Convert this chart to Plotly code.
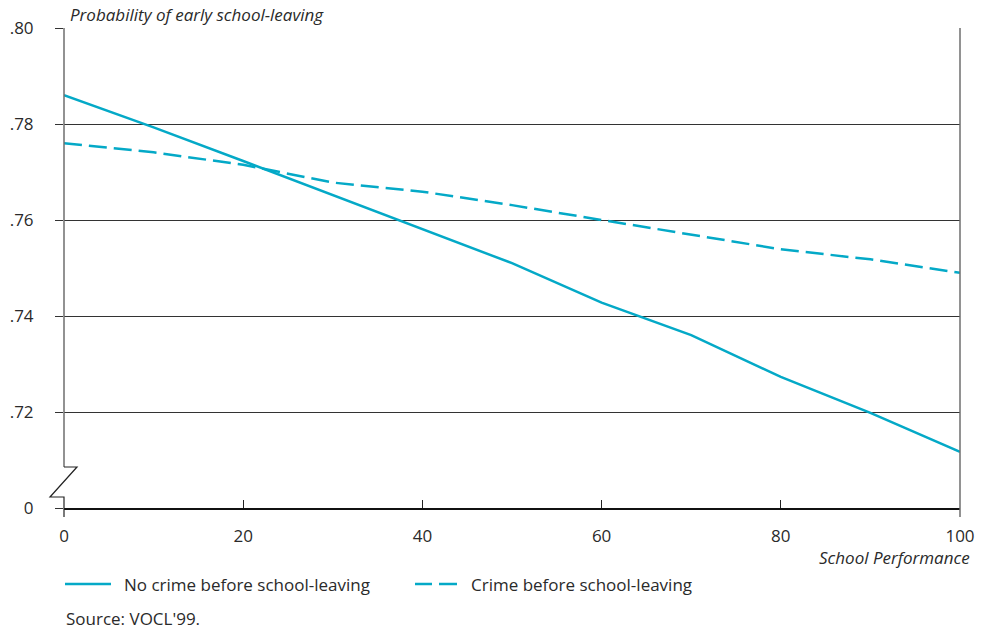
import plotly.graph_objects as go

# ---- data ----
school_performance = [0, 10, 20, 30, 40, 50, 60, 70, 80, 90, 100]
no_crime = [0.786, 0.7793, 0.7723, 0.7652, 0.7582, 0.7510, 0.7428, 0.7360, 0.7273, 0.7198, 0.7117]
crime = [0.776, 0.7741, 0.7715, 0.7678, 0.7659, 0.7631, 0.7600, 0.7569, 0.7539, 0.7518, 0.7490]
series_names = ["No crime before school-leaving", "Crime before school-leaving"]
y_tickvals = [0.70, 0.72, 0.74, 0.76, 0.78, 0.80]
y_ticktext = ["0", ".72", ".74", ".76", ".78", ".80"]
x_tickvals = [0, 20, 40, 60, 80, 100]
y_title = "Probability of early school-leaving"
x_title = "School Performance"
source = "Source: VOCL'99."

COLOR = "#04A9C7"
FONT = "Open Sans"
FS = 17
TXT = "#2a2a2a"
W, H = 983, 629          # body margin removed by post_script
ML, MR, MT, MB = 64, 23, 28, 121
PW = W - ML - MR
PH = H - MT - MB
Y0, Y1 = 0.70, 0.80

def py(v):
    """data y -> paper y"""
    return (v - Y0) / (Y1 - Y0)

def px_x(p):
    return p / PW

def px_y(p):
    return p / PH

fig = go.Figure()
fig.add_trace(go.Scatter(x=school_performance, y=no_crime, mode="lines",
                         line=dict(color=COLOR, width=2.5), name=series_names[0],
                         showlegend=False, hoverinfo="skip"))
fig.add_trace(go.Scatter(x=school_performance, y=crime, mode="lines",
                         line=dict(color=COLOR, width=2.5, dash="18px,7px"),
                         name=series_names[1], showlegend=False, hoverinfo="skip"))

shapes = []
brk_top = 0.70854
brk_bot = 0.70229
shapes.append(dict(type="line", xref="paper", yref="paper", x0=0, x1=0,
                   y0=1, y1=py(brk_top), line=dict(color="#6e6e6e", width=1.5)))
zig = (f"M 0 {py(brk_top)} L {px_x(13)} {py(brk_top)} "
       f"L {px_x(-14)} {py(brk_bot)} L 0 {py(brk_bot)} L 0 {-px_y(9)}")
shapes.append(dict(type="path", xref="paper", yref="paper", path=zig,
                   line=dict(color="#222222", width=1.2)))
shapes.append(dict(type="line", xref="paper", yref="paper", x0=1, x1=1,
                   y0=1, y1=-px_y(9), line=dict(color="#6e6e6e", width=1.5)))

annotations = [
    dict(text=f"<i>{y_title}</i>", xref="paper", yref="paper", x=px_x(4), y=1 + px_y(13),
         xanchor="left", yanchor="middle", showarrow=False,
         font=dict(family=FONT, size=FS, color=TXT)),
    dict(text=f"<i>{x_title}</i>", xref="paper", yref="paper", x=1 + px_x(12),
         y=-px_y(49), xanchor="right", yanchor="middle", showarrow=False,
         font=dict(family=FONT, size=FS, color=TXT)),
    dict(text=source, xref="paper", yref="paper", x=0, y=-px_y(110),
         xanchor="left", yanchor="middle", showarrow=False,
         font=dict(family=FONT, size=FS, color=TXT)),
]

leg_y = -px_y(76)
shapes.append(dict(type="line", xref="paper", yref="paper", x0=px_x(1), x1=px_x(47),
                   y0=leg_y, y1=leg_y, line=dict(color=COLOR, width=2.5)))
shapes.append(dict(type="line", xref="paper", yref="paper", x0=px_x(351), x1=px_x(368),
                   y0=leg_y, y1=leg_y, line=dict(color=COLOR, width=2.5)))
shapes.append(dict(type="line", xref="paper", yref="paper", x0=px_x(375), x1=px_x(393),
                   y0=leg_y, y1=leg_y, line=dict(color=COLOR, width=2.5)))
annotations.append(dict(text=series_names[0], xref="paper", yref="paper", x=px_x(58),
                        y=leg_y, xanchor="left", yanchor="middle", showarrow=False,
                        font=dict(family=FONT, size=FS, color=TXT)))
annotations.append(dict(text=series_names[1], xref="paper", yref="paper", x=px_x(405),
                        y=leg_y, xanchor="left", yanchor="middle", showarrow=False,
                        font=dict(family=FONT, size=FS, color=TXT)))

fig.update_layout(
    width=W, height=H,
    margin=dict(l=ML, r=MR, t=MT, b=MB, autoexpand=False),
    paper_bgcolor="white", plot_bgcolor="white",
    font=dict(family=FONT, size=FS, color=TXT),
    shapes=shapes, annotations=annotations,
    showlegend=False, hovermode=False,
)
fig.update_xaxes(range=[0, 100], tickvals=x_tickvals, ticks="inside", ticklen=8,
                 tickcolor="#222", tickwidth=1, showgrid=False, zeroline=False,
                 showline=True, linecolor="#111", linewidth=1.5, automargin=False,
                 ticklabelstandoff=12, tickfont=dict(size=FS, color=TXT))
fig.update_yaxes(range=[Y0, Y1], tickvals=y_tickvals, ticktext=y_ticktext,
                 ticks="outside", ticklen=8, tickcolor="#333", tickwidth=1,
                 showgrid=True, gridcolor="#333", gridwidth=1, zeroline=False,
                 showline=False, ticklabelstandoff=18, automargin=False,
                 tickfont=dict(size=FS, color=TXT))

fig.write_html(
    "out.html",
    config={"displayModeBar": False, "staticPlot": True},
    post_script="document.body.style.margin='0';document.body.style.overflow='hidden';",
)
